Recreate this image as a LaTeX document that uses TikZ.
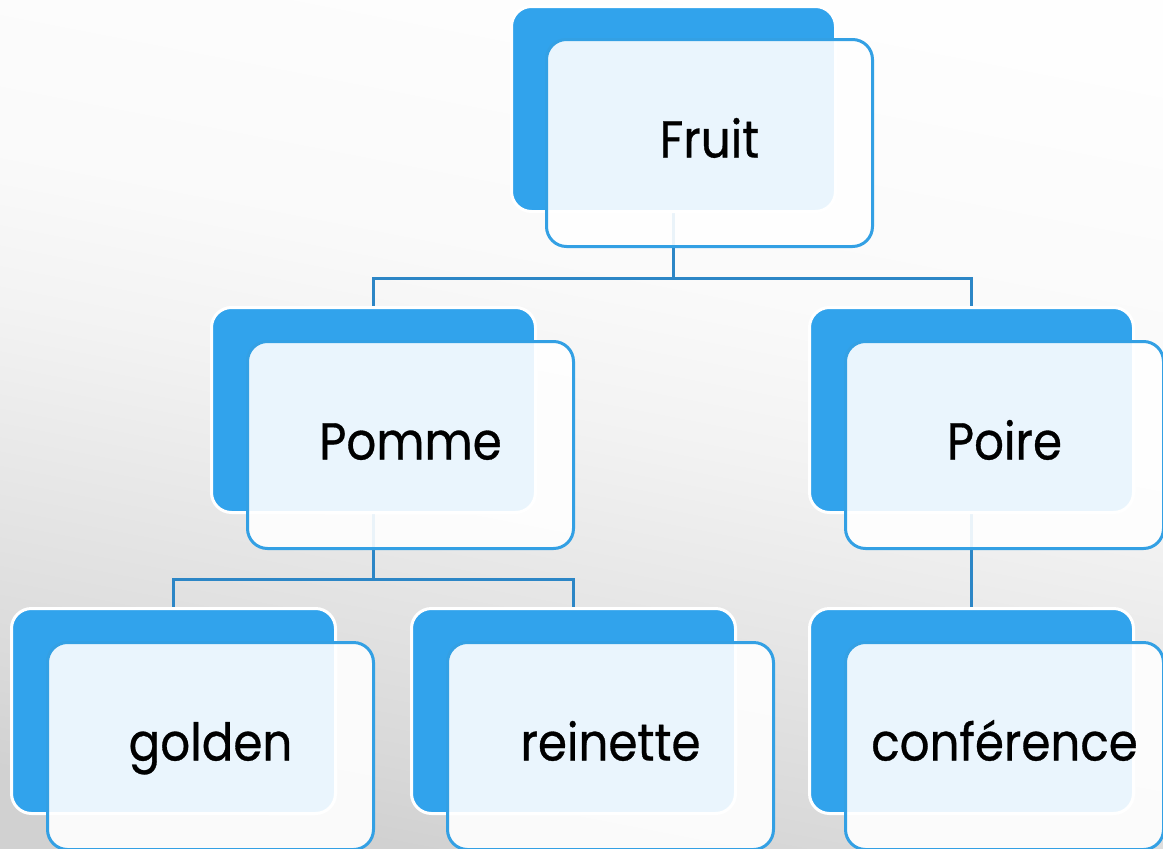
\documentclass[tikz,border=0pt]{standalone}
\usepackage{fontspec}
\setmainfont{Poppins}[FakeStretch=0.9, FakeBold=0.6]
\definecolor{backblue}{HTML}{31A3EC}
\definecolor{frontline}{HTML}{33A0E4}
\definecolor{connline}{HTML}{2C86C6}
\pgfdeclareverticalshading{bgsh}{100bp}{%
  rgb(0bp)=(0.82,0.82,0.82);
  rgb(25bp)=(0.82,0.82,0.82);
  rgb(30bp)=(0.85,0.85,0.85);
  rgb(45bp)=(0.925,0.925,0.925);
  rgb(50bp)=(0.95,0.95,0.95);
  rgb(58bp)=(0.978,0.978,0.978);
  rgb(75bp)=(0.995,0.995,0.995);
  rgb(100bp)=(0.995,0.995,0.995)}
\pgfdeclarelayer{bg}
\pgfdeclarelayer{lines}
\pgfsetlayers{bg,lines,main}
\tikzset{
  backbox/.style={draw=white, line width=3pt, fill=backblue, rounded corners=20pt,
    minimum width=324pt, minimum height=205pt, inner sep=0pt, anchor=north west},
  frontbox/.style={draw=frontline, line width=3pt, fill=white, fill opacity=0.9, text opacity=1,
    rounded corners=20pt, minimum width=326pt, minimum height=207pt, inner sep=0pt,
    anchor=north west, font=\fontsize{52}{60}\selectfont, text height=40pt, text depth=11pt},
  conn/.style={draw=connline, line width=3pt}
}
\begin{document}
\begin{tikzpicture}[x=1pt,y=-1pt]
\useasboundingbox (0,0) rectangle (1163,849);
\begin{pgfonlayer}{bg}
\shade[shading=bgsh, shading angle=-11] (0,0) rectangle (1163,849);
\end{pgfonlayer}
% Fruit
\node[backbox] (fruitB) at (510,5) {};
\node[frontbox] (fruit) at (545,38) {Fruit};
% Pomme
\node[backbox] (pommeB) at (210,306) {};
\node[frontbox] (pomme) at (246,340) {Pomme};
% Poire
\node[backbox] (poireB) at (808,306) {};
\node[frontbox, minimum width=318pt] (poire) at (844,340) {Poire};
% golden
\node[backbox] (goldenB) at (10,607) {};
\node[frontbox] (golden) at (46,641) {golden};
% reinette
\node[backbox] (reinetteB) at (410,607) {};
\node[frontbox] (reinette) at (446,641) {reinette};
% conference
\node[backbox] (confB) at (808,607) {};
\node[frontbox, minimum width=318pt] (conf) at (844,641) {conférence};
\begin{pgfonlayer}{lines}
\draw[conn] (fruitB.south) -- ++(0,65) -| (pommeB.north);
\draw[conn] (fruitB.south) ++(0,65) -| (poireB.north);
\draw[conn] (pommeB.south) -- ++(0,65) -| (goldenB.north);
\draw[conn] (pommeB.south) ++(0,65) -| (reinetteB.north);
\draw[conn] (poireB.south) -- (confB.north);
\end{pgfonlayer}
\end{tikzpicture}
\end{document}
